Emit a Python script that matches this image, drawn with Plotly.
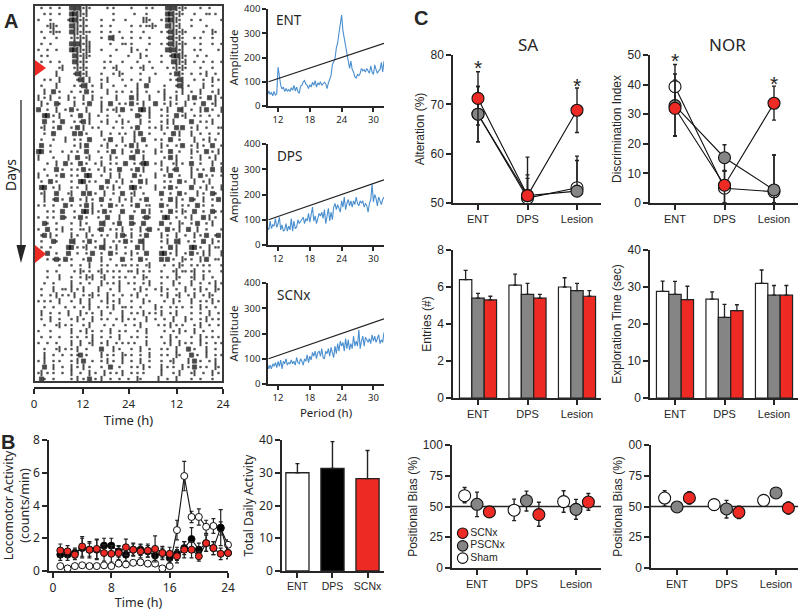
import numpy as np
import plotly.graph_objects as go

W, H = 800, 611
RED, GRAY, INK = "#ee2a24", "#858585", "#262626"
BLUE = "#4a8fcf"
SANS = "Noto Sans"
ARIAL = "Liberation Sans"

# Actogram: each row is a day, each cell 45 min of a double-plotted 48 h trace
ACTOGRAM = [
"  .  .  . |  #o#o.o. |    . .   |  .    . .|    #o#o.o|.    .  . |   ",
"   . .  . |  ##oo.o  |      .   |   .   .  |    ##o.o.|   .   .. |.  ",
" .   .    | .##o.o.  |  .   .   |.     oo. |  . ##oo. |  .  .    |  .",
"    .oo.  |  #oo.o.  |  .  .    |  .  . ..o|.   #oo.o |  .    .  |   ",
"  .  .o.. |  #oo.o.. |  .  .  . |  .   .   |  . .#oo.o|.     .  o|.  ",
"   .   .  |  .o.o.o  |  .  #o  .|  .  .  . |    .#o.o.|   . .   .|   ",
"  .  .    |  #o#o.oo |     .   .|. .     . |  . .#oo.o|.    .   .|  .",
" .  .  .  |  ##oo.oo |  .    .  |  o .  .  |    #o#o.o|   . .    | . ",
"  . .     |   #o.oo. |     .    | .   o .  |  .  .##oo|.   .  . |   ",
"  .  .  . |   #o.o.  |   . .   .|    .   . |  .   #oo.|o  .  .  .|  .",
"        .o|   .o.o.  |   .  .o  |  .  .o  .|    . .o.o|.    .   .|   ",
"       o  |   .#o.o  |  .   . o.|     .    |.    . #o.|  .  . o  |.  ",
"   . .  o |    .#o o |  . o    .|  .  .  o |     . .#o|   .  .  o| . ",
"  .    o  |   . .#o .|  o   .   |.   o  #  |   .   .#o| .    o  . |  .",
"   o  # . |  .  . # .|    o  . .|  . o  .  | . o   . o|  .  o   . |o  ",
" o . o  . | o .  o  o|  .    o  |  # o   o |   o . o  | o # .  # o| . ",
"  o .  #. |   o  . # |  o  #  . |. # . o   |#  . o .  |o  .  #  .|o  ",
" #  .  o  |. # .  o  |  o . .o #|  .  ## o |  . o   #o|  .  o # .|  o",
"   ## . o |  .  #  o | .  .   . |    #.  o |  . .  # .|o  . .  . | . ",
"   #  .  #|   . .# o |  . o  . o| .   o  . |  . o o   |  #  . . o|   ",
"  .o  . # |  . # o  .| .    .  .|  . #   . |. o .  # #|  . o  .  | ..",
"   .  #   |   # # .  |  o  .  . |.  o #  . |   .  # o |  o  .  . | . ",
"  .   .   |o  . .  # |   . #   o|   o  #   |. .  #  . |   o  . o |.  ",
"  #  .    |   . o #  |  . o  .  |. # o  .  |  o .  . #|  . o .  #|  .",
" ##  .   .|  . .  # |  .  . #  o|  . # .   |o .  #  . |  o .  # .| o ",
" o    .   | o  #  .o |  .  o .  |  #o  o   |   . # o  |  .  o  . o|  ",
"    .  o  |# .  # .  |. o  . .  #|  . .##  |. o   .o .|  #  .   o | . ",
"   .   # .|  . . # . | . o .  # |  . # o   |  . o .#  |  o . .  # | o ",
" o  .  . #|  . .  ## |  .  o  o |   # .    |o  . #  . |  o  # . . | . ",
"  .  # .  |  .  ## . |.   #  . o|  .  # o  |   . .  # |.  o  . o  |  .",
"  ##  . o |  . .  o  |  # . o . |  ## .    |o  . # .  |  #  . o . | o ",
"  .o   #  | .o   # # |.  o  .  #|  .o  .   |  #  .  # |.   o .  #|.  ",
"   o  .# .|  #  . o .|  #  .  o |. o  . #  |  .  # o .|  #.  o  .| # ",
" . .  .   |# .  . # o|  .  # . .|  . #  .. |  # .  o .| .  # .  . |   ",
"    . .  #|   .  ## o| . # .   #|   .  # o |  .  # . o|.  #  .  #.| . ",
" .  . .  #|.  . # .  | .  #   o |  #   .#. |   ##  .  |. o   # o .|  .",
"   #.  .  |  .  o .  |  #o  . # |  #.  #   |  #  .  o.|  . #  . o|   ",
" .  #  . o|  .  .. o|  .#  . . o|  .  o .#|  .  # . o|  #  o  .  |  .",
"  .# o .  |  o .  o .|  . .  o #|. o  . #  |  o .  o  .|  o . #  .|# .",
"  .   #.  |  #o  . # |.  o  . . |# .  #o   |  . o  #o  |. .  #  o |.  ",
"  .  .    | ## . .o  |. #o . o  |.   # o   |  .  # o  |  ## .  o .|. #",
"    #  .  | #  .  . #|  .  # .  |. o .  #  |  ## . o  |. # . o o  | o ",
"    . .#. |# .   . # |  o  .   #|  .  # .  |  # # .  o|. .  o #  .|.  ",
"        . |  .  .  o |  . .  . .|. . .  .o |   .  . o.|  . . . .  | . ",
"    .  .  |   . o. . | .o . . . | .. o . . |  .   .o .|. .o  . .  | . ",
"    .   o |  .  . o.o|  .o  . . |.  .  o.  |  . .  o. |  .o  o  . |  .",
"   .  .   |  o  .  . |  o . . o | . .  . o |  .   o . |  o  .  . o| . ",
"  .   o  .|. o . o   | o   .  o |   . o .  |. o .  .  |o  . o .  o|.  ",
"  .  . o .| . o  . .o| .  o .  .|  . o  .  |  . o  .o | . o  . o. |  .",
" . . .  o |  .  o  o |  . o . o |  .   o . |   .  o . |  o  . . o| . ",
"   .  .   |.  .  . o | .  . o  .|. .  .    |o .  . . .|  .  o .  .|  .",
"  o  .  . | o   o . .|  o  .   o|  . . o . |. o  . o  |  .  .  o | . ",
"  .  o  . |  . o .  o|  . .  . o| . .   o  |.  .  o   |o .  . o . |.  ",
"   .   .o |. .   . o |   .  .   .|  . o     |. . o . . |  . o  .  .| . ",
" .   .    |  o  . o .|  .  o  . |.   .  o  |   .  . o |.  o  .  .|   ",
"  .  .  . |  . .  . o|  .  .  o |  . .  .  |  .  o .  |  .  o . . |.  ",
" .  .  .  |  o  o  .o|  . o  . .| . .   o  |   . o  o |. .  o .  .| . ",
"   .   .o |. . o  .  |  #   o . |  .  o  . |  . .  o  | # .   o  .|   ",
"   o  .  .|  . .# .  |  o . .  o|. .  .  o |  . .  o. |  # .  o  .| . ",
" . o  . . |  . o #  .|  . o .  o|  .  o  . |  .  .o  |  o # .  . o|  .",
"   #  o  .|  o . o . |  .  #  . |  . . o . |  o . .  o| . # . .  o|.  ",
" .o . .  .|  o  .  o |.  o . . o|  . . .   |  o   . o |  .o  .  o |.  ",
"  #.  .   |  . o . # |. o  .  . | .  o.    | o  .  o  |  .  .   . |   ",
]
ACTOGRAM_TICKS = [0, 12, 24, 12, 24]

# Lomb-Scargle style periodograms, one reading per quarter hour from 10 h to 32 h
PERIODOGRAM_START_H = 10.0
PERIODOGRAM_STEP_H = 0.25
ENT_AMP = [45,62,48,55,42,60,45,50, 160,115,85,70,78,60,72,62, 68,60,75,65,85,62,78,60,
           52,82,85,100,105,90,85,72, 88,78,98,85,105,78,95,88, 100,85,90,98,92,72,95,112,
           125,170,185,195,240,260,300,340, 375,310,280,260,225,190,155,185,
           150,140,120,115,130,125,135,155, 145,150,140,155,145,135,165,140,
           130,170,150,135,145,150,180,140, 185]
DPS_AMP = [70,60,95,65,80,75,105,70, 85,110,60,80,55,60,85,55, 75,60,105,55,95,65,70,100,
           85,95,100,110,85,105,95,125, 90,120,150,95,115,85,110,125, 115,130,105,140,85,125,145,95,
           130,100,150,165,140,160,145,130, 175,150,190,140,165,180,155,175,
           150,175,160,190,165,155,175,165, 175,150,165,155,130,165,180,240,
           170,200,185,155,190,170,160,180, 190]
SCNX_AMP = [80,60,75,60,80,70,85,65, 90,70,95,60,90,80,100,75, 85,80,95,80,90,75,105,85,
            80,100,90,75,100,90,115,85, 110,95,125,110,130,100,125,130, 110,140,105,100,130,120,140,110,
            145,125,105,150,120,160,130,170, 150,165,130,180,140,175,135,160,
            140,190,150,170,150,215,140,170, 190,150,185,175,165,180,160,195,
            170,190,165,180,195,160,175,165, 205]
SIG_PERIOD = [10.2, 32.0]
SIG_AMP = [100, 258]

# Panel B
HOURS = list(range(1, 25))
LOCO_ENT = [0.3,0.16,0.3,0.35,0.3,0.3,0.35,0.3,0.45,0.4,0.5,0.53,0.45,0.45,0.16,0.3,2.5,5.8,3.3,3.3,2.7,2.75,2.6,1.6]
LOCO_ENT_ERR = [0.15,0.1,0.1,0.1,0.1,0.1,0.1,0.1,0.1,0.1,0.1,0.1,0.1,0.1,0.1,0.1,0.6,0.9,0.35,0.5,0.4,0.45,0.4,0.3]
LOCO_DPS = [1.0,1.0,1.1,1.4,1.3,1.3,1.55,1.55,1.2,1.0,1.3,1.3,1.2,0.95,1.1,0.8,1.05,1.4,1.95,1.3,1.7,1.4,2.65,1.1]
LOCO_DPS_ERR = [0.35,0.35,0.3,0.6,0.4,0.6,0.45,0.45,0.35,0.4,0.35,0.35,0.35,0.3,0.3,0.3,0.4,0.4,0.7,0.4,0.5,0.4,1.1,0.35]
LOCO_SCNX = [1.25,1.2,1.0,1.5,1.3,1.35,1.1,1.05,1.1,1.45,1.3,1.2,1.25,1.35,1.1,1.05,0.9,1.3,1.3,0.9,1.7,1.4,1.05,1.1]
LOCO_SCNX_ERR = [0.4,0.35,0.3,0.6,0.5,0.6,0.5,0.5,0.4,0.5,0.4,0.4,0.4,0.8,0.4,0.4,0.4,0.5,0.5,0.3,0.5,0.4,0.35,0.35]
TOTAL_LABELS = ["ENT", "DPS", "SCNx"]
TOTAL_VALUES = [30, 31.3, 28.2]
TOTAL_ERR = [2.8, 8.2, 8.6]

# Panel C
STAGES = ["ENT", "DPS", "Lesion"]
GROUPS = ["SCNx", "PSCNx", "Sham"]
SA_SHAM, SA_SHAM_UP, SA_SHAM_DN = [68.0,51.0,53.1], [5.6,4.0,6.4], [5.6,0.5,0.5]
SA_PSCNX, SA_PSCNX_UP, SA_PSCNX_DN = [68.0,51.5,52.4], [5.6,4.2,6.2], [5.6,1.0,1.0]
SA_SCNX, SA_SCNX_UP, SA_SCNX_DN = [71.2,51.5,68.8], [5.4,7.8,4.5], [5.4,1.0,4.5]
NOR_SHAM, NOR_SHAM_UP, NOR_SHAM_DN = [39.3,5.0,3.8], [7.5,5.7,12.4], [7.5,5.0,3.8]
NOR_PSCNX, NOR_PSCNX_UP, NOR_PSCNX_DN = [32.9,15.3,4.4], [10.7,4.4,11.8], [10.2,4.4,4.4]
NOR_SCNX, NOR_SCNX_UP, NOR_SCNX_DN = [32.0,6.0,33.7], [9.5,5.0,5.8], [9.5,6.0,5.7]
ENTRIES_SHAM, ENTRIES_SHAM_ERR = [6.4,6.1,6.0], [0.5,0.6,0.5]
ENTRIES_PSCNX, ENTRIES_PSCNX_ERR = [5.4,5.6,5.8], [0.25,0.6,0.4]
ENTRIES_SCNX, ENTRIES_SCNX_ERR = [5.3,5.4,5.5], [0.2,0.2,0.3]
EXPLO_SHAM, EXPLO_SHAM_ERR = [28.8,26.7,31.0], [2.8,2.0,3.6]
EXPLO_PSCNX, EXPLO_PSCNX_ERR = [28.0,21.8,27.8], [3.5,3.5,2.6]
EXPLO_SCNX, EXPLO_SCNX_ERR = [26.6,23.6,27.8], [3.6,1.6,2.6]
BIAS_SA_SHAM, BIAS_SA_SHAM_UP, BIAS_SA_SHAM_DN = [58.8,47.0,54.0], [6.7,9.0,8.8], [5.8,8.5,8.7]
BIAS_SA_PSCNX, BIAS_SA_PSCNX_UP, BIAS_SA_PSCNX_DN = [51.8,54.7,47.7], [9.9,7.8,8.1], [10.0,8.3,8.1]
BIAS_SA_SCNX, BIAS_SA_SCNX_UP, BIAS_SA_SCNX_DN = [45.6,43.4,53.6], [3.0,10.0,7.0], [3.0,9.4,6.6]
BIAS_NOR_SHAM, BIAS_NOR_SHAM_UP, BIAS_NOR_SHAM_DN = [56.9,51.5,55.0], [5.9,2.0,1.0], [6.5,2.0,1.0]
BIAS_NOR_PSCNX, BIAS_NOR_PSCNX_UP, BIAS_NOR_PSCNX_DN = [49.6,48.0,61.0], [1.5,7.0,1.0], [1.5,7.3,1.0]
BIAS_NOR_SCNX, BIAS_NOR_SCNX_UP, BIAS_NOR_SCNX_DN = [57.0,45.3,48.8], [5.0,5.0,5.0], [5.0,5.0,5.0]

fig = go.Figure()
layout = {}
annotations = []
shapes = []


def px(x):
    return x / W


def py(y):
    return 1 - y / H


def add_axes(i, left, right, top, bottom, xrange, yrange, xticks, xlabels, yticks, ylabels=None,
             ytitle=None, xtitle=None, font=ARIAL, tick=11, xtick=None, xfont=None, title_font=None,
             title_size=12, standoff=6, xstandoff=4):
    axis_common = dict(showgrid=False, zeroline=False, showline=True, linecolor=INK, linewidth=1.5,
                       ticks="outside", ticklen=5, tickwidth=1.5, tickcolor=INK, automargin=False)
    xa = dict(domain=[px(left), px(right)], range=xrange, tickmode="array", tickvals=xticks,
              ticktext=xlabels, anchor=f"y{i}",
              tickfont=dict(family=xfont or font, size=xtick or tick, color=INK), **axis_common)
    ya = dict(domain=[py(bottom), py(top)], range=yrange, tickmode="array", tickvals=yticks,
              ticktext=ylabels if ylabels else [str(v) for v in yticks], anchor=f"x{i}",
              tickfont=dict(family=font, size=tick, color=INK), **axis_common)
    if ytitle:
        ya["title"] = dict(text=ytitle, standoff=standoff,
                           font=dict(family=title_font or font, size=title_size, color=INK))
    if xtitle:
        xa["title"] = dict(text=xtitle, standoff=xstandoff,
                           font=dict(family=title_font or font, size=title_size, color=INK))
    layout[f"xaxis{i}"] = xa
    layout[f"yaxis{i}"] = ya


def text(x, y, s, size, family=SANS, bold=False, angle=0):
    annotations.append(dict(x=px(x), y=py(y), xref="paper", yref="paper", text=f"<b>{s}</b>" if bold else s,
                            showarrow=False, textangle=angle, xanchor="center", yanchor="middle",
                            font=dict(family=family, size=size, color=INK)))


def triangle(path):
    pts = " L ".join(f"{px(x):.4f},{py(y):.4f}" for x, y in path)
    return f"M {pts} Z"


# ---- A: actogram
rows = [r.replace("|", "") for r in ACTOGRAM]
cell_h = 48 / 63
sizes = {".": 1.8, "o": 4.5, "#": 4.2}
glyphs = {".": "square", "o": "line-ns", "#": "square"}
strokes = {".": 0.5, "o": 2.0, "#": 0.8}
ax, ay, am, ag, aw = [], [], [], [], []
for d, row in enumerate(rows):
    for c, ch in enumerate(row):
        if ch in sizes:
            ax.append((c + 0.5) * cell_h)
            ay.append(d + 0.5)
            am.append(sizes[ch])
            ag.append(glyphs[ch])
            aw.append(strokes[ch])
add_axes(1, 34, 223, 5, 382, [0, 48], [len(rows), 0], [0, 12.4, 24, 36.2, 48], ACTOGRAM_TICKS, [], xtitle="Time (h)",
         font=SANS, tick=11.5, title_size=13)
layout["yaxis1"].update(visible=False)
layout["xaxis1"].update(anchor="free", position=py(388), side="bottom")
fig.add_trace(go.Scatter(x=ax, y=ay, mode="markers", xaxis="x1", yaxis="y1", showlegend=False,
                         marker=dict(symbol=ag, size=am, color="#000000", line=dict(width=aw, color="#000000"))))
shapes.append(dict(type="rect", xref="paper", yref="paper", x0=px(34), x1=px(223), y0=py(5), y1=py(382),
                   line=dict(color="#3a3a3a", width=2)))
for tip, top, bot in [(68, 60, 76), (254, 245, 263)]:
    shapes.append(dict(type="path", xref="paper", yref="paper", path=triangle([(35, top), (46, tip), (35, bot)]),
                       fillcolor=RED, line=dict(width=0)))
shapes.append(dict(type="line", xref="paper", yref="paper", x0=px(21), x1=px(21), y0=py(100), y1=py(246),
                   line=dict(color=INK, width=1.3)))
shapes.append(dict(type="path", xref="paper", yref="paper", path=triangle([(16.5, 245), (26, 245), (21, 263)]),
                   fillcolor=INK, line=dict(width=0)))
text(10, 175, "Days", 14, angle=-90)

# ---- A: periodograms
for i, (amp, label, top, bot, lx, ly, xlab) in enumerate([
    (ENT_AMP, "ENT", 9, 106, 289, 20, None),
    (DPS_AMP, "DPS", 144, 245, 289, 156, None),
    (SCNX_AMP, "SCNx", 283, 384, 293, 295, "Period (h)"),
], start=2):
    add_axes(i, 268, 384, top, bot, [10.1, 32], [0, 400], [12, 18, 24, 30], ["12", "18", "24", "30"],
             [0, 100, 200, 300, 400], ytitle="Amplitude", xtitle=xlab, font=SANS, tick=9.5, title_size=11.5,
             standoff=3, xstandoff=6)
    layout[f"xaxis{i}"]["ticklen"] = 4
    layout[f"yaxis{i}"]["ticklen"] = 4
    periods = PERIODOGRAM_START_H + PERIODOGRAM_STEP_H * np.arange(len(amp))
    fig.add_trace(go.Scatter(x=periods, y=amp, mode="lines", xaxis=f"x{i}", yaxis=f"y{i}", showlegend=False,
                             line=dict(color=BLUE, width=1.1)))
    fig.add_trace(go.Scatter(x=SIG_PERIOD, y=SIG_AMP, mode="lines", xaxis=f"x{i}", yaxis=f"y{i}", showlegend=False,
                             line=dict(color="#222222", width=1.3)))
    text(lx, ly, label, 13.5)

# ---- B: locomotor activity
add_axes(5, 49, 228, 440, 571, [-0.55, 24], [0, 8], [0, 8, 16, 24], ["0", "8", "16", "24"], [0, 2, 4, 6, 8],
         ytitle="Locomotor Activity<br>(counts/min)", xtitle="Time (h)", font=SANS, tick=12, title_size=12.5,
         standoff=6, xstandoff=4)
for vals, errs, col in [(LOCO_ENT, LOCO_ENT_ERR, "white"), (LOCO_DPS, LOCO_DPS_ERR, "black"), (LOCO_SCNX, LOCO_SCNX_ERR, RED)]:
    fig.add_trace(go.Scatter(x=HOURS, y=vals, mode="lines+markers", xaxis="x5", yaxis="y5", showlegend=False,
                             cliponaxis=False,
                             error_y=dict(type="data", array=errs, color="#222222", thickness=1.2, width=2),
                             line=dict(color="#111111", width=1.1),
                             marker=dict(size=7, color=col, line=dict(color="#111111", width=1))))

add_axes(6, 282, 384, 440, 571, [-0.44, 2.47], [0, 40], [0, 1, 2], TOTAL_LABELS, [0, 10, 20, 30, 40],
         ytitle="Total Daily Activity", font=SANS, xfont=ARIAL, tick=12, xtick=10.5, title_size=12, standoff=3)
fig.add_trace(go.Bar(x=[0, 1, 2], y=TOTAL_VALUES, width=0.66, xaxis="x6", yaxis="y6", showlegend=False,
                     marker=dict(color=["white", "black", RED], line=dict(color="#222222", width=1.3)),
                     error_y=dict(type="data", symmetric=False, array=TOTAL_ERR, arrayminus=[0, 0, 0],
                                  color="#222222", thickness=1.4, width=2)))

# ---- C: spontaneous alternation and object recognition
STYLE = {"Sham": "white", "PSCNx": GRAY, "SCNx": RED}
STAGE_X = [0, 1, 2]
LINE_SETS = [
    (7, 453, 601, 478, 55, 203, [50, 80], [50, 60, 70, 80], "Alteration (%)", [
        ("Sham", SA_SHAM, SA_SHAM_UP, SA_SHAM_DN), ("PSCNx", SA_PSCNX, SA_PSCNX_UP, SA_PSCNX_DN),
        ("SCNx", SA_SCNX, SA_SCNX_UP, SA_SCNX_DN)]),
    (8, 650, 798, 675, 55, 203, [0, 50], [0, 10, 20, 30, 40, 50], "Discrimination Index", [
        ("Sham", NOR_SHAM, NOR_SHAM_UP, NOR_SHAM_DN), ("PSCNx", NOR_PSCNX, NOR_PSCNX_UP, NOR_PSCNX_DN),
        ("SCNx", NOR_SCNX, NOR_SCNX_UP, NOR_SCNX_DN)]),
]
for i, l, r, t0, top, bot, yr, yt, title, series in LINE_SETS:
    add_axes(i, l, r, top, bot, [(l - t0) / 49.5, (r - t0) / 49.5], yr, STAGE_X, STAGES, yt, ytitle=title,
             tick=12, xtick=11, title_size=12, standoff=3)
    for name, v, up, dn in series:
        fig.add_trace(go.Scatter(x=STAGE_X, y=v, mode="lines+markers", xaxis=f"x{i}", yaxis=f"y{i}",
                                 showlegend=False, cliponaxis=False,
                                 error_y=dict(type="data", symmetric=False, array=up, arrayminus=dn,
                                              color="#222222", thickness=1.4, width=2),
                                 line=dict(color="#111111", width=1.1),
                                 marker=dict(size=12, color=STYLE[name], line=dict(color="#111111", width=1.1))))
text(528, 44, "SA", 17)
text(727, 44, "NOR", 17)
for i, xv, yv in [(7, 0, 77.4), (7, 2, 73.9), (8, 0, 48), (8, 2, 40.5)]:
    annotations.append(dict(x=xv, y=yv, xref=f"x{i}", yref=f"y{i}", text="*", showarrow=False,
                            font=dict(family=ARIAL, size=21, color=INK)))

BAR_SETS = [
    (9, 453, 601, 478, [0, 8], [0, 2, 4, 6, 8], "Entries (#)", [
        ("Sham", ENTRIES_SHAM, ENTRIES_SHAM_ERR), ("PSCNx", ENTRIES_PSCNX, ENTRIES_PSCNX_ERR),
        ("SCNx", ENTRIES_SCNX, ENTRIES_SCNX_ERR)]),
    (10, 650, 798, 675, [0, 40], [0, 10, 20, 30, 40], "Exploration Time (sec)", [
        ("Sham", EXPLO_SHAM, EXPLO_SHAM_ERR), ("PSCNx", EXPLO_PSCNX, EXPLO_PSCNX_ERR),
        ("SCNx", EXPLO_SCNX, EXPLO_SCNX_ERR)]),
]
for i, l, r, t0, yr, yt, title, series in BAR_SETS:
    add_axes(i, l, r, 250, 398, [(l - t0) / 49.5, (r - t0) / 49.5], yr, STAGE_X, STAGES, yt, ytitle=title,
             tick=12, xtick=11, title_size=12, standoff=3)
    for k, (name, v, err) in enumerate(series):
        fig.add_trace(go.Bar(x=STAGE_X, y=v, width=0.25, offset=-0.375 + 0.25 * k, xaxis=f"x{i}", yaxis=f"y{i}",
                             showlegend=False, marker=dict(color=STYLE[name], line=dict(color="#222222", width=1.2)),
                             error_y=dict(type="data", symmetric=False, array=err, arrayminus=[0, 0, 0],
                                          color="#222222", thickness=1.3, width=2)))

BIAS_SETS = [
    (11, 452, 601, 477, [0, 25, 50, 75, 100], ["0", "25", "50", "75", "100"], [
        ("Sham", BIAS_SA_SHAM, BIAS_SA_SHAM_UP, BIAS_SA_SHAM_DN), ("PSCNx", BIAS_SA_PSCNX, BIAS_SA_PSCNX_UP, BIAS_SA_PSCNX_DN),
        ("SCNx", BIAS_SA_SCNX, BIAS_SA_SCNX_UP, BIAS_SA_SCNX_DN)]),
    (12, 651, 798, 677, [0, 25, 50, 75, 100], ["0", "25", "50", "75", "00"], [
        ("Sham", BIAS_NOR_SHAM, BIAS_NOR_SHAM_UP, BIAS_NOR_SHAM_DN), ("PSCNx", BIAS_NOR_PSCNX, BIAS_NOR_PSCNX_UP, BIAS_NOR_PSCNX_DN),
        ("SCNx", BIAS_NOR_SCNX, BIAS_NOR_SCNX_UP, BIAS_NOR_SCNX_DN)]),
]
for i, l, r, t0, yt, yl, series in BIAS_SETS:
    xr = [(l - t0) / 49.5, (r - t0) / 49.5]
    add_axes(i, l, r, 445, 568, xr, [0, 100], STAGE_X, STAGES, yt, ylabels=yl, ytitle="Positional Bias (%)",
             tick=12, xtick=11, title_size=12, standoff=3)
    shapes.append(dict(type="line", xref=f"x{i}", yref=f"y{i}", x0=xr[0], x1=xr[1], y0=50, y1=50, layer="below",
                       line=dict(color=INK, width=1.5)))
    for k, (name, v, up, dn) in enumerate(series):
        fig.add_trace(go.Scatter(x=[s + (k - 1) * 0.25 for s in STAGE_X], y=v, mode="markers", xaxis=f"x{i}", yaxis=f"y{i}",
                                 showlegend=False, cliponaxis=False,
                                 error_y=dict(type="data", symmetric=False, array=up, arrayminus=dn,
                                              color="#222222", thickness=1.4, width=2),
                                 marker=dict(size=12, color=STYLE[name], line=dict(color="#111111", width=1.1))))
# hand-placed key, as in the figure
fig.add_trace(go.Scatter(x=[-0.29, -0.29, -0.29], y=[28.3, 18, 8], mode="markers+text", xaxis="x11", yaxis="y11",
                         showlegend=False, text=GROUPS, textposition="middle right",
                         textfont=dict(family=ARIAL, size=10.5, color=INK),
                         marker=dict(size=10.5, color=[STYLE[g] for g in GROUPS], line=dict(color="#111111", width=1.1))))

text(11, 21, "A", 20, family=ARIAL, bold=True)
text(8, 442, "B", 20, family=ARIAL, bold=True)
text(421, 18, "C", 20, family=ARIAL, bold=True)

fig.update_layout(width=W, height=H, margin=dict(l=0, r=0, t=0, b=0), paper_bgcolor="white", plot_bgcolor="white",
                  barmode="overlay", annotations=annotations, shapes=shapes, **layout)
fig.write_html("out.html", config={"displayModeBar": False},
               post_script="document.body.style.margin='0';document.body.style.padding='0';")
